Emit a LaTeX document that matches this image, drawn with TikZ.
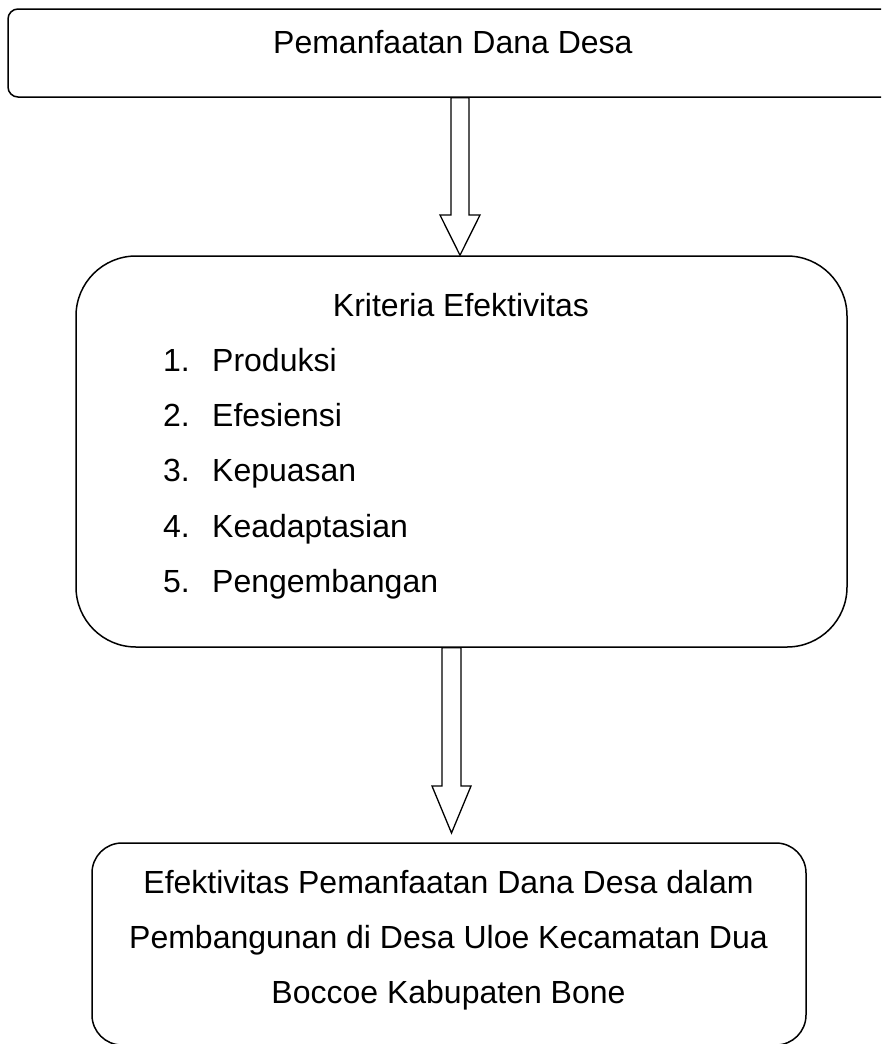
\documentclass[tikz,border=0pt]{standalone}
\usepackage{fontspec}
\setmainfont{Liberation Sans}
\usetikzlibrary{calc}
\tikzset{
  boxstyle/.style={draw=black, line width=1.5pt, inner sep=0pt, fill=none},
  txt/.style={font=\fontsize{32}{38}\selectfont, inner sep=0pt, anchor=base west},
  ctxt/.style={font=\fontsize{32}{38}\selectfont, inner sep=0pt, anchor=base},
  hollow/.style={draw=black, line width=1.3pt, fill=white, line join=miter}
}
\begin{document}
\begin{tikzpicture}[x=1pt,y=-1pt]
\useasboundingbox (0,0) rectangle (881,1044);
\clip (0,0) rectangle (881,1044);
% boxes
\node[boxstyle, rounded corners=10pt, minimum width=890pt, minimum height=88pt] (top) at (453,53) {};
\node[boxstyle, rounded corners=60pt, minimum width=771pt, minimum height=391pt] (mid) at (461.5,451.5) {};
\node[boxstyle, rounded corners=30pt, minimum width=714pt, minimum height=202pt] (bot) at (449,944) {};
% texts
\node[txt] (t1) at (273,53) {Pemanfaatan Dana Desa};
\node[ctxt] (t2) at (461,316) {Kriteria Efektivitas};
\node[txt] (i1) at (163,371) {\makebox[49pt][l]{1.}Produksi};
\node[txt] (i2) at (163,426) {\makebox[49pt][l]{2.}Efesiensi};
\node[txt] (i3) at (163,481) {\makebox[49pt][l]{3.}Kepuasan};
\node[txt] (i4) at (163,537) {\makebox[49pt][l]{4.}Keadaptasian};
\node[txt] (i5) at (163,592) {\makebox[49pt][l]{5.}Pengembangan};
\node[ctxt] (b1) at (448.5,893) {Efektivitas Pemanfaatan Dana Desa dalam};
\node[ctxt] (b2) at (448.5,948) {Pembangunan di Desa Uloe Kecamatan Dua};
\node[ctxt] (b3) at (448.5,1003) {Boccoe Kabupaten Bone};
% hollow arrows
\coordinate (a1s) at (top.south -| 460,0);
\coordinate (a1e) at (mid.north -| 460,0);
\draw[hollow] ($(a1s)+(-9,0)$) -- (451,215) -- (440,215) -- (a1e) -- (480,215) -- (469,215) -- ($(a1s)+(9,0)$) -- cycle;
\coordinate (a2s) at (mid.south -| 451.5,0);
\coordinate (a2e) at (451.5,833);
\draw[hollow] ($(a2s)+(-9.5,0)$) -- (442,786) -- (432,786) -- (a2e) -- (471,786) -- (461,786) -- ($(a2s)+(9.5,0)$) -- cycle;
\end{tikzpicture}
\end{document}
